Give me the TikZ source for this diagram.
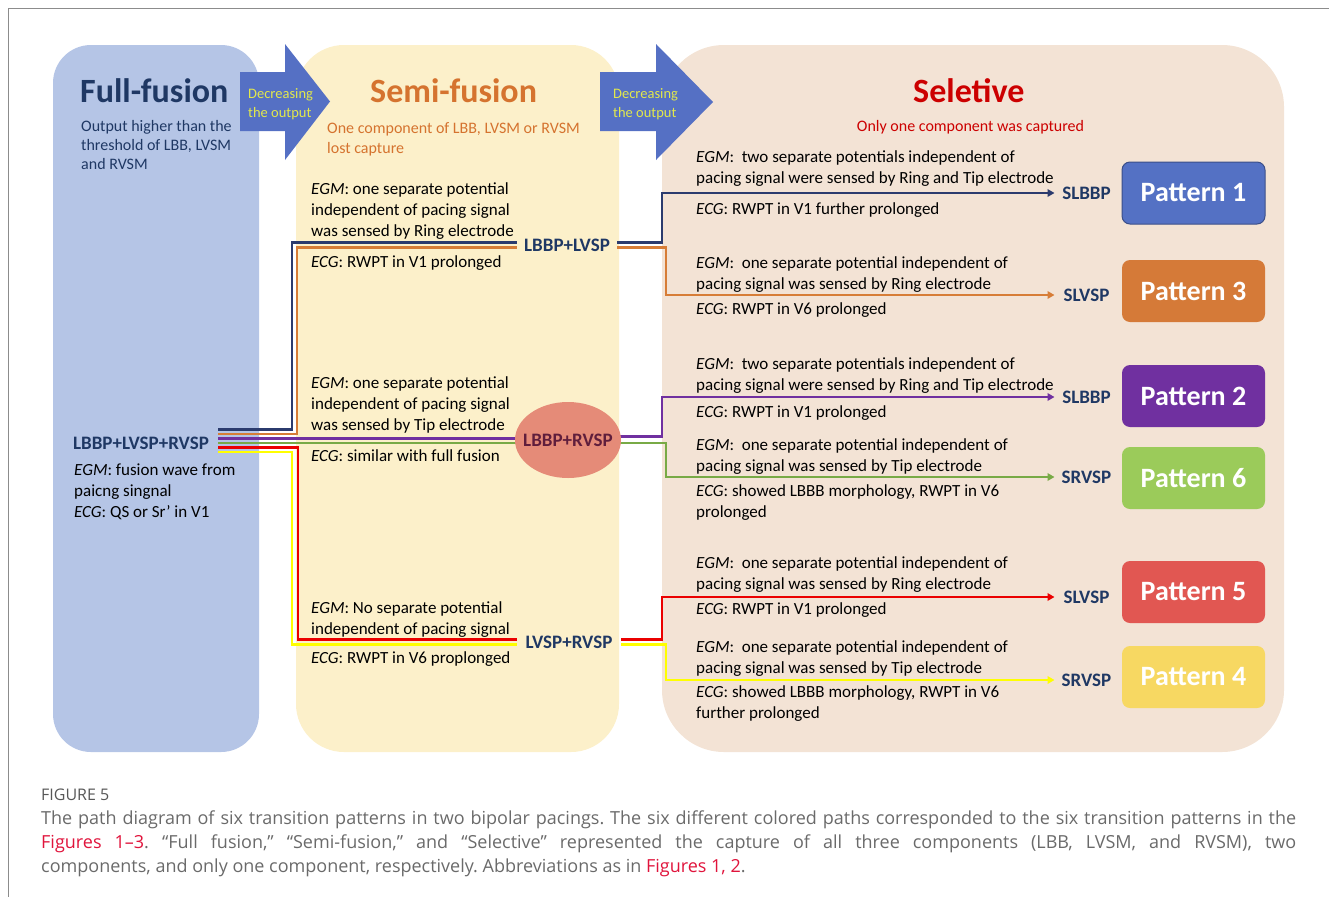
\documentclass[tikz,border=0pt]{standalone}
\usepackage{fontspec}
\setmainfont{Carlito}
\newfontfamily\capfont{Open Sans}
\usetikzlibrary{arrows.meta,shapes.geometric}
\pgfdeclarelayer{bg}\pgfdeclarelayer{lines}
\pgfsetlayers{bg,lines,main}
\definecolor{fullbg}{HTML}{B5C5E6}
\definecolor{semibg}{HTML}{FCF0CA}
\definecolor{selbg}{HTML}{F3E3D5}
\definecolor{arrowblue}{HTML}{5570C4}
\definecolor{navy}{HTML}{1F3864}
\definecolor{semiorange}{HTML}{D5732F}
\definecolor{selred}{HTML}{CC0000}
\definecolor{decyellow}{HTML}{E2E84C}
\definecolor{lnavy}{HTML}{2B3B6E}
\definecolor{lorange}{HTML}{D77D37}
\definecolor{lpurple}{HTML}{7030A0}
\definecolor{lgreen}{HTML}{78AA46}
\definecolor{lred}{HTML}{EB0000}
\definecolor{lyellow}{HTML}{FFFF00}
\definecolor{ellfill}{HTML}{E58B78}
\definecolor{elltext}{HTML}{601E3C}
\definecolor{pat1}{HTML}{5471C4}
\definecolor{pat3}{HTML}{D57A38}
\definecolor{pat2}{HTML}{7030A0}
\definecolor{pat6}{HTML}{9BCB5A}
\definecolor{pat5}{HTML}{E15752}
\definecolor{pat4}{HTML}{F7D862}
\definecolor{capgray}{HTML}{6A6A6A}
\definecolor{figgray}{HTML}{575757}
\definecolor{linkred}{HTML}{E0143C}
\definecolor{framegray}{HTML}{8C8C8C}
\newcommand\txtlines[2][21pt]{\vtop{\baselineskip=#1\relax\lineskiplimit=-30pt\halign{##\hfil\cr#2\crcr}}}
\tikzset{
  panel/.style={draw=none, inner sep=0, outer sep=0},
  body/.style={font=\fontsize{17}{21}\selectfont, inner sep=0, anchor=base west, text=black},
  hdr/.style={font=\fontsize{34}{40}\selectfont\bfseries, inner sep=0, anchor=base west},
  sub/.style={font=\fontsize{16}{19}\selectfont, inner sep=0, anchor=base west},
  dec/.style={font=\fontsize{14.5}{18}\selectfont, text=decyellow, inner sep=0, anchor=base west},
  junction/.style={font=\fontsize{19}{22}\selectfont\bfseries, text=navy, inner sep=0, outer sep=0},
  target/.style={font=\fontsize{19}{22}\selectfont\bfseries, text=navy, inner sep=0, outer sep=0, minimum width=64},
  pattern/.style={rounded corners=8pt, minimum width=143, minimum height=62, font=\fontsize{28}{32}\selectfont\bfseries, text=white, inner sep=0},
  conn/.style={line width=2.8pt},
  arr/.style={conn, -{Triangle[length=7pt,width=7.5pt]}},
  blockarrow/.style={fill=arrowblue, draw=none},
  caption/.style={inner sep=0, anchor=base west, font=\capfont\fontsize{18}{24}\selectfont\frenchspacing, text=capgray}
}
\begin{document}
\begin{tikzpicture}[x=1pt,y=-1pt]
\useasboundingbox (0,0) rectangle (1329,897);
\draw[framegray, line width=1pt] (1329,8) -- (8,8) -- (8,897);

% panels
\begin{pgfonlayer}{bg}
\node[panel, fill=fullbg, minimum width=206, minimum height=707, rounded corners=38pt] (fullp) at (156,398.5) {};
\node[panel, fill=semibg, minimum width=323, minimum height=707, rounded corners=48pt] (semip) at (457.5,398.5) {};
\node[panel, fill=selbg, minimum width=622, minimum height=707, rounded corners=62pt] (selp) at (973,398.5) {};
\fill[blockarrow] (240,72) -- (285,72) -- (285,44) -- (330,101.5) -- (285,160) -- (285,131) -- (240,131) -- cycle;
\fill[blockarrow] (600,72) -- (656,72) -- (656,44) -- (713,102) -- (656,160) -- (656,131) -- (600,131) -- cycle;
\end{pgfonlayer}
\node[dec] (dec1) at (248,98.5) {\txtlines[18.5pt]{Decreasing\cr the output}};
\node[dec] (dec2) at (613,98.5) {\txtlines[18.5pt]{Decreasing\cr the output}};

% headers
\node[hdr, text=navy] (hfull) at (80,102) {Full-fusion};
\node[sub, text=navy] (sfull) at (81,131) {\txtlines[19pt]{Output higher than the\cr threshold of LBB, LVSM\cr and RVSM}};
\node[hdr, text=semiorange] (hsemi) at (370,102) {Semi-fusion};
\node[sub, text=semiorange] (ssemi) at (327,133) {\txtlines[20pt]{One component of LBB, LVSM or RVSM\cr lost capture}};
\node[hdr, text=selred] (hsel) at (913,102) {Seletive};
\node[sub, text=selred, anchor=base] (ssel) at (970.5,131) {Only one component was captured};

% full-fusion node
\node[junction, minimum width=154] (src) at (141,443) {LBBP+LVSP+RVSP};
\node[body] (srct) at (74,475) {\txtlines{\textit{EGM}: fusion wave from\cr paicng singnal\cr \textit{ECG}: QS or Sr’ in V1}};

% semi-fusion nodes
\node[junction, minimum width=100] (m1) at (567,245) {LBBP+LVSP};
\node[ellipse, fill=ellfill, minimum width=106, minimum height=76, inner sep=0] (ell) at (568,440) {};
\node[font=\fontsize{19}{22}\selectfont\bfseries, text=elltext, inner sep=0] (ellt) at (ell.center) {LBBP+RVSP};
\node[junction, minimum width=104] (m3) at (569,642) {LVSP+RVSP};

\node[body] (s1a) at (311,194) {\txtlines{\textit{EGM}: one separate potential\cr independent of pacing signal\cr was sensed by Ring electrode}};
\node[body] (s1b) at (311,267) {\textit{ECG}: RWPT in V1 prolonged};
\node[body] (s2a) at (311,388) {\txtlines{\textit{EGM}: one separate potential\cr independent of pacing signal\cr was sensed by Tip electrode}};
\node[body] (s2b) at (311,461) {\textit{ECG}: similar with full fusion};
\node[body] (s3a) at (311,613) {\txtlines{\textit{EGM}: No separate potential\cr independent of pacing signal}};
\node[body] (s3b) at (311,663) {\textit{ECG}: RWPT in V6 proplonged};

% selective text
\node[body] (b1a) at (696,162) {\txtlines{\textit{EGM}:\ \ two separate potentials independent of\cr pacing signal were sensed by Ring and Tip electrode}};
\node[body] (b1b) at (696,214) {\textit{ECG}: RWPT in V1 further prolonged};
\node[body] (b2a) at (696,268) {\txtlines{\textit{EGM}:\ \ one separate potential independent of\cr pacing signal was sensed by Ring electrode}};
\node[body] (b2b) at (696,314) {\textit{ECG}: RWPT in V6 prolonged};
\node[body] (b3a) at (696,369) {\txtlines{\textit{EGM}:\ \ two separate potentials independent of\cr pacing signal were sensed by Ring and Tip electrode}};
\node[body] (b3b) at (696,417) {\textit{ECG}: RWPT in V1 prolonged};
\node[body] (b4a) at (696,450) {\txtlines{\textit{EGM}:\ \ one separate potential independent of\cr pacing signal was sensed by Tip electrode}};
\node[body] (b4b) at (696,496) {\txtlines{\textit{ECG}: showed LBBB morphology, RWPT in V6\cr prolonged}};
\node[body] (b5a) at (696,568) {\txtlines{\textit{EGM}:\ \ one separate potential independent of\cr pacing signal was sensed by Ring electrode}};
\node[body] (b5b) at (696,614) {\textit{ECG}: RWPT in V1 prolonged};
\node[body] (b6a) at (696,652) {\txtlines{\textit{EGM}:\ \ one separate potential independent of\cr pacing signal was sensed by Tip electrode}};
\node[body] (b6b) at (696,697) {\txtlines{\textit{ECG}: showed LBBB morphology, RWPT in V6\cr further prolonged}};

% targets
\node[target] (t1) at (1086.5,193) {SLBBP};
\node[target] (t2) at (1086.5,295) {SLVSP};
\node[target] (t3) at (1086.5,397) {SLBBP};
\node[target] (t4) at (1086.5,477) {SRVSP};
\node[target] (t5) at (1086.5,597) {SLVSP};
\node[target] (t6) at (1086.5,680) {SRVSP};

% patterns
\node[pattern, fill=pat1, draw=pat1!70!black, line width=1pt] (p1) at (1193.5,193) {Pattern 1};
\node[pattern, fill=pat3] (p3) at (1193.5,291) {Pattern 3};
\node[pattern, fill=pat2] (p2) at (1193.5,396) {Pattern 2};
\node[pattern, fill=pat6] (p6) at (1193.5,478) {Pattern 6};
\node[pattern, fill=pat5] (p5) at (1193.5,592) {Pattern 5};
\node[pattern, fill=pat4] (p4) at (1193.5,677) {Pattern 4};

% connectors
\begin{pgfonlayer}{lines}
\draw[conn, lnavy] ([shift={(0,-13.5)}]src.east) -- ++(74,0) |- ([shift={(0,-2.5)}]m1.west);
\draw[conn, lorange] ([shift={(0,-9)}]src.east) -- ++(79,0) |- ([shift={(0,2.5)}]m1.west);
\draw[conn, lpurple] ([shift={(0,-4.5)}]src.east) -- ([shift={(0,-1.5)}]ell.center);
\draw[conn, lgreen] (src.east) -- ([shift={(0,3)}]ell.center);
\draw[conn, lred] ([shift={(0,4.5)}]src.east) -- ++(80,0) |- ([shift={(0,-2.5)}]m3.west);
\draw[conn, lyellow] ([shift={(0,9)}]src.east) -- ++(74,0) |- ([shift={(0,2.5)}]m3.west);

\draw[arr, lnavy] ([shift={(0,-2.5)}]m1.east) -- ++(45,0) |- (t1.west);
\draw[arr, lorange] ([shift={(0,2.5)}]m1.east) -- ++(49,0) |- (t2.west);
\draw[arr, lpurple] ([shift={(0,-3.5)}]ell.center) -- ++(94,0) |- (t3.west);
\draw[arr, lgreen] ([shift={(0,3)}]ell.center) -- ++(98,0) |- (t4.west);
\draw[arr, lred] ([shift={(0,-2.5)}]m3.east) -- ++(41,0) |- (t5.west);
\draw[arr, lyellow] ([shift={(0,2.5)}]m3.east) -- ++(45,0) |- (t6.west);
\end{pgfonlayer}

% caption
\node[caption, font=\capfont\fontsize{16}{18}\selectfont, text=figgray] (figlab) at (41,800) {FIGURE 5};
\node[caption] (cap1) at (41,824) {\makebox[1255pt][s]{The path diagram of six transition patterns in two bipolar pacings. The six different colored paths corresponded to the six transition patterns in the}};
\node[caption] (cap2) at (41,848) {\makebox[1255pt][s]{\textcolor{linkred}{Figures 1–3}. “Full fusion,” “Semi-fusion,” and “Selective” represented the capture of all three components (LBB, LVSM, and RVSM), two}};
\node[caption] (cap3) at (41,872) {components, and only one component, respectively. Abbreviations as in \textcolor{linkred}{Figures 1, 2}.};
\end{tikzpicture}
\end{document}
